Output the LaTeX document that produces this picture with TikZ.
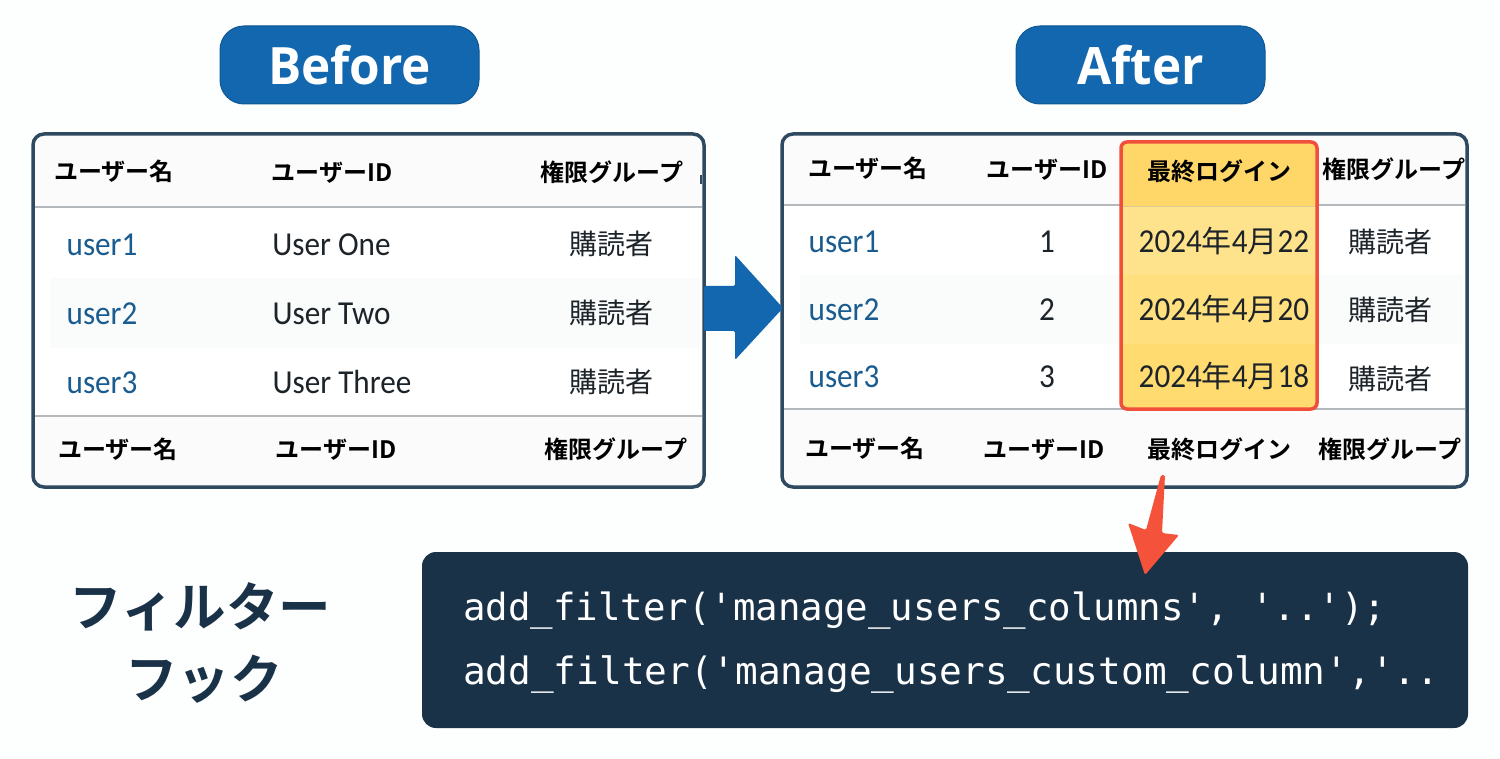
\documentclass[tikz,border=0pt]{standalone}
\usepackage{fontspec}
\setmainfont[FakeStretch=0.93]{Carlito}
\newfontfamily\cjk{Noto Sans CJK JP}
\newfontfamily\cjkb{Noto Sans CJK JP Bold}
\newfontfamily\codefont{DejaVu Sans Mono}
\newfontfamily\pillfont[FakeStretch=0.96]{Open Sans}
\definecolor{pageBg}{HTML}{FDFEFE}
\definecolor{pillBlue}{HTML}{1267AE}
\definecolor{tableEdge}{HTML}{2F4A60}
\definecolor{headBg}{HTML}{FBFBFC}
\definecolor{bandBg}{HTML}{FAFBFB}
\definecolor{ruleGrey}{HTML}{B4B9BD}
\definecolor{linkBlue}{HTML}{1A5C8F}
\definecolor{inkDark}{HTML}{1C2329}
\definecolor{navy}{HTML}{1A3248}
\definecolor{redEdge}{HTML}{EF4F3B}
\definecolor{arrowRed}{HTML}{F4523A}
\definecolor{hlHead}{HTML}{FFD668}
\definecolor{hlA}{HTML}{FFE38C}
\definecolor{hlB}{HTML}{FFDF7E}
\definecolor{hlC}{HTML}{FFDB70}
\tikzset{
  pill/.style={fill=pillBlue,draw=pillBlue!85!black,line width=1pt,rounded corners=24pt,inner sep=0pt,text=white,font=\pillfont\bfseries\fontsize{51.5}{52}\selectfont},
  tablebox/.style={draw=tableEdge,line width=3.5pt,rounded corners=11pt,inner sep=0pt},
  headtext/.style={anchor=base,inner sep=0pt,text=black,font=\cjkb\fontsize{24}{25}\selectfont},
  usertext/.style={anchor=base,inner sep=0pt,text=linkBlue,font=\fontsize{33.5}{34}\selectfont},
  celltext/.style={anchor=base,inner sep=0pt,text=inkDark,font=\fontsize{33.5}{34}\selectfont},
  jptext/.style={anchor=base,inner sep=0pt,text=inkDark,font=\cjk\fontsize{28}{28}\selectfont},
  codetext/.style={anchor=base west,inner sep=0pt,text=white,font=\codefont\fontsize{37.4}{38}\selectfont},
  hooktext/.style={anchor=base,inner sep=0pt,text=navy,font=\cjkb\fontsize{52.5}{54}\selectfont},
  rulerow/.style={ruleGrey,line width=1.6pt},
}
\begin{document}
\begin{tikzpicture}[x=1pt,y=-1pt]
\useasboundingbox (0,0) rectangle (1500,759);
\fill[pageBg] (0,0) rectangle (1500,759);

% pills
\node[pill,minimum width=259pt,minimum height=78pt] (beforepill) at (349.5,65) {\raisebox{-1.5pt}{Before}};
\node[pill,minimum width=249pt,minimum height=78pt] (afterpill) at (1140.5,65) {\raisebox{-1.5pt}{After}};

% left table
\path[fill=headBg,rounded corners=11pt] (33,134) rectangle (704,487);
\fill[white] (35,207) rectangle (702,416);
\fill[bandBg] (50,278) rectangle (700,348);
\draw[rulerow] (35,207) -- (702,207);
\draw[rulerow] (35,416) -- (702,416);
\draw[tableEdge,line width=1.5pt] (701,175) -- (701,184);
\node[tablebox,minimum width=671pt,minimum height=353pt] (beforetable) at (368.5,310.5) {};

\node[headtext] (bh1) at (114,181) {ユーザー名};
\node[headtext] (bh2) at (332,182) {ユーザーID};
\node[headtext] (bh3) at (612,182) {権限グループ};
\node[usertext] (bu1) at (102,256) {user1};
\node[usertext] (bu2) at (102,325) {user2};
\node[usertext] (bu3) at (102,394) {user3};
\node[celltext] (bn1) at (331.5,256) {User One};
\node[celltext] (bn2) at (331.5,325) {User Two};
\node[celltext] (bn3) at (342,394) {User Three};
\node[jptext] (br1) at (611.5,255) {購読者};
\node[jptext] (br2) at (611.5,324) {購読者};
\node[jptext] (br3) at (611.5,392) {購読者};
\node[headtext] (bf1) at (118,458) {ユーザー名};
\node[headtext] (bf2) at (336,458) {ユーザーID};
\node[headtext] (bf3) at (616,458) {権限グループ};

% right table
\path[fill=headBg,rounded corners=11pt] (782,134) rectangle (1467,487);
\fill[white] (784,205) rectangle (1465,409);
\fill[bandBg] (800,275) rectangle (1463,344);
\draw[rulerow] (784,205) -- (1465,205);
\draw[rulerow] (784,409) -- (1465,409);

% highlighted column
\begin{scope}
\clip[rounded corners=6pt] (1121,142) rectangle (1317,409);
\fill[hlHead] (1121,142) rectangle (1317,207);
\fill[hlA] (1121,207) rectangle (1317,275);
\fill[hlB] (1121,275) rectangle (1317,344);
\fill[hlC] (1121,344) rectangle (1317,409);
\draw[ruleGrey!50!hlHead,line width=1pt] (1121,207) -- (1317,207);
\end{scope}
\draw[redEdge,line width=3.5pt,rounded corners=6pt] (1121,142) rectangle (1317,409);
\node[tablebox,minimum width=685pt,minimum height=353pt] (aftertable) at (1124.5,310.5) {};

\node[headtext] (ah1) at (868,178) {ユーザー名};
\node[headtext] (ah2) at (1047,179) {ユーザーID};
\node[headtext] (ah3) at (1219,181) {最終ログイン};
\node[headtext] (ah4) at (1394,179) {権限グループ};
\node[usertext] (au1) at (844,253) {user1};
\node[usertext] (au2) at (844,321) {user2};
\node[usertext] (au3) at (844,388) {user3};
\node[celltext] (an1) at (1047,253) {1};
\node[celltext] (an2) at (1047,321) {2};
\node[celltext] (an3) at (1047,388) {3};
\node[celltext] (ad1) at (1224,253) {2024{\cjk\fontsize{30}{30}\selectfont 年}4{\cjk\fontsize{30}{30}\selectfont 月}22};
\node[celltext] (ad2) at (1224,321) {2024{\cjk\fontsize{30}{30}\selectfont 年}4{\cjk\fontsize{30}{30}\selectfont 月}20};
\node[celltext] (ad3) at (1224,388) {2024{\cjk\fontsize{30}{30}\selectfont 年}4{\cjk\fontsize{30}{30}\selectfont 月}18};
\node[jptext] (ar1) at (1390,253) {購読者};
\node[jptext] (ar2) at (1390,321) {購読者};
\node[jptext] (ar3) at (1390,389) {購読者};
\node[headtext] (af1) at (865,457) {ユーザー名};
\node[headtext] (af2) at (1044,458) {ユーザーID};
\node[headtext] (af3) at (1219,458) {最終ログイン};
\node[headtext] (af4) at (1390,458) {権限グループ};

% big blue arrow between the tables
\fill[pillBlue,rounded corners=1.5pt] (704,286) -- (735,286) -- (735,255) -- (783,308) -- (735,360) -- (735,331) -- (704,331) -- cycle;

% code box
\node[fill=navy,rounded corners=14pt,minimum width=1046pt,minimum height=176pt,inner sep=0pt] (codebox) at (945,640) {};
\node[codetext] (code1) at (463,620) {add\_filter('manage\_users\_columns', '..');};
\node[codetext,font=\codefont\fontsize{37.7}{38}\selectfont] (code2) at (463,684) {add\_filter('manage\_users\_custom\_column','..};

% hook label
\node[hooktext] (hook1) at (200.5,626) {フィルター};
\node[hooktext] (hook2) at (204,698) {フック};

% red arrow
\fill[arrowRed,rounded corners=1.5pt] (1161,475) -- (1165,475) -- (1162,533) -- (1179,535) -- (1145,575) -- (1128,523) -- (1146,530) -- cycle;
\end{tikzpicture}
\end{document}
